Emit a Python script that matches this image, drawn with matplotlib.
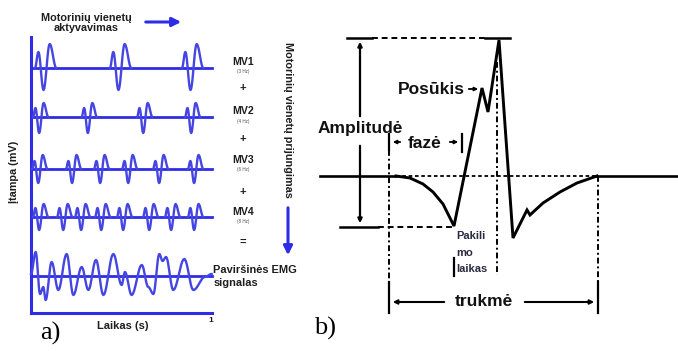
import matplotlib
matplotlib.use("Agg")
import matplotlib.pyplot as plt
import numpy as np

# ── Panel a: motor unit firing (spike start times in s) ──────────────────
mv_names = ["MV1", "MV2", "MV3", "MV4"]
mv_rates = ["(3 Hz)", "(4 Hz)", "(6 Hz)", "(8 Hz)"]
mv_spikes = [
    [0.022, 0.436, 0.834],
    [0.011, 0.280, 0.586, 0.851],
    [0.006, 0.193, 0.348, 0.503, 0.674, 0.867],
    [0.011, 0.144, 0.243, 0.354, 0.475, 0.619, 0.740, 0.867],
]
# spike amplitudes: first small peak, trough, main peak
mv_small = [16, 9, 8, 9]
mv_trough = [22, 16, 14, 13]
mv_big = [24, 14, 14, 13]
mv_width = [0.118, 0.085, 0.085, 0.085]
spike_phase = [0.0, 0.16, 0.40, 0.69, 1.0]

# surface EMG extrema (time s, amplitude)
emg_t = [0.0, 0.026, 0.050, 0.068, 0.081, 0.114, 0.151, 0.197, 0.234, 0.280,
         0.317, 0.359, 0.400, 0.455, 0.501, 0.519, 0.556, 0.612, 0.648, 0.676,
         0.709, 0.727, 0.746, 0.786, 0.847, 0.897, 0.961, 0.998]
emg_v = [2, 24, -18, -11, -24, 14, -14, 22, -19, 9,
         -14, 16, -19, 22, -9, 4, -19, 11, -11, -18,
         22, 15, 19, -14, 17, -14, -1, 2]

# ── Panel b: motor unit action potential (x, amplitude) ──────────────────
muap_x = [396, 410, 423, 433, 443, 454, 482, 488, 499, 513, 527, 530, 543, 560, 577, 597]
muap_v = [0, -2, -8, -16, -28, -50, 88, 64, 136, -62, -34, -39, -27, -16, -7, 0]
rise_lines = ["Pakili", "mo", "laikas"]

BLUE = "#2d2de6"
TRACE = "#4545e2"
SANS = "Liberation Sans"
SERIF = "Liberation Serif"

# layout of panel a (pixels)
A_X0, A_W = 31, 181
A_BASE = [68, 117, 169, 217]
EMG_BASE = 276
AX_BOTTOM = 313

# layout of panel b (pixels)
B_BASE = 176


def smooth(xs, ys, n=12):
    """Cosine-eased path through a list of extrema."""
    px, py = [xs[0]], [ys[0]]
    for i in range(len(xs) - 1):
        s = np.linspace(0, 1, n)[1:]
        px.extend(xs[i] + (xs[i + 1] - xs[i]) * s)
        py.extend(ys[i] + (ys[i + 1] - ys[i]) * (1 - np.cos(np.pi * s)) / 2)
    return np.array(px), np.array(py)


def tx(t):
    return A_X0 + np.asarray(t) * A_W


fig = plt.figure(figsize=(6.78, 3.51), dpi=100)
ax = fig.add_axes([0, 0, 1, 1])
ax.set_xlim(0, 678)
ax.set_ylim(351, 0)
ax.axis("off")

# ── a) ───────────────────────────────────────────────────────────────────
ax.plot([A_X0, A_X0], [37, AX_BOTTOM], color=BLUE, lw=2.2)
ax.plot([A_X0, tx(1)], [AX_BOTTOM, AX_BOTTOM], color=BLUE, lw=2.2)

for k, spikes in enumerate(mv_spikes):
    base = A_BASE[k]
    ax.plot([A_X0, tx(1)], [base, base], color=BLUE, lw=2)
    amps = [0, mv_small[k], -mv_trough[k], mv_big[k], 0]
    for t0 in spikes:
        ts = [t0 + p * mv_width[k] for p in spike_phase]
        sx, sy = smooth(ts, amps)
        ax.plot(tx(sx), base - sy, color=TRACE, lw=1.7, solid_joinstyle="round")

ax.plot([A_X0, tx(1)], [EMG_BASE, EMG_BASE], color=BLUE, lw=2)
ex, ey = smooth(emg_t, emg_v)
ax.plot(tx(ex), EMG_BASE - ey, color=TRACE, lw=1.7)

bold = dict(fontfamily=SANS, fontweight="bold", color="#1e1e1e")
ax.text(86, 23, "Motorinių vienetų\naktyvavimas", ha="center", va="center",
        fontsize=7.8, linespacing=1.1, **bold)
ax.annotate("", xy=(184, 22), xytext=(143, 22),
            arrowprops=dict(arrowstyle="-|>", color=BLUE, lw=2.2, mutation_scale=13))

label_y = [62, 111, 160, 212]
for k in range(4):
    ax.text(243, label_y[k], mv_names[k], ha="center", va="center", fontsize=7.6, **bold)
    ax.text(243, label_y[k] + 10, mv_rates[k], ha="center", va="center",
            fontsize=3.3, fontfamily=SANS, color="#555555")
for y in [88, 139, 192]:
    ax.text(243, y, "+", ha="center", va="center", fontsize=8, **bold)
ax.text(243, 242, "=", ha="center", va="center", fontsize=8, **bold)
ax.text(213, 270, "Paviršinės EMG", ha="left", va="center", fontsize=7.9, **bold)
ax.text(214, 283, "signalas", ha="left", va="center", fontsize=7.9, **bold)

ax.text(288, 120, "Motorinių vienetų prijungimas", ha="center", va="center",
        rotation=-90, fontsize=7.8, **bold)
ax.annotate("", xy=(288, 258), xytext=(288, 205),
            arrowprops=dict(arrowstyle="-|>", color=BLUE, lw=2.2, mutation_scale=13))

ax.text(14, 172, "Įtampa (mV)", ha="center", va="center", rotation=90, fontsize=7.8, **bold)
ax.text(123, 326, "Laikas (s)", ha="center", va="center", fontsize=8, **bold)
ax.text(211, 321, "1", ha="center", va="center", fontsize=6, **bold)
ax.text(50, 333, "a)", ha="center", va="center", fontsize=19, fontfamily=SERIF)

# ── b) ───────────────────────────────────────────────────────────────────
K = "black"
dash = (0, (3, 2))
dashdot = (0, (3, 1.5, 1, 1.5))

# baseline
ax.plot([320, muap_x[0]], [B_BASE, B_BASE], color=K, lw=1.9)
ax.plot([muap_x[0], muap_x[-1]], [B_BASE, B_BASE], color=K, lw=1.3, ls=(0, (2, 1.5)))
ax.plot([muap_x[-1], 678], [B_BASE, B_BASE], color=K, lw=1.9)

# potential
ax.plot(muap_x, B_BASE - np.array(muap_v), color=K, lw=2.1, solid_joinstyle="miter")

peak_y = B_BASE - max(muap_v)
low_y = B_BASE - min(muap_v[:7]) + 1
# top and bottom reference lines
ax.plot([347, 372], [peak_y - 2, peak_y - 2], color=K, lw=1.8)
ax.plot([372, 485], [peak_y - 2, peak_y - 2], color=K, lw=1.4, ls=dash)
ax.plot([485, 510], [peak_y - 2, peak_y - 2], color=K, lw=1.8)
ax.plot([340, 378], [low_y, low_y], color=K, lw=1.8)
ax.plot([378, 454], [low_y, low_y], color=K, lw=1.4, ls=dash)

# amplitude arrow
ax.annotate("", xy=(360, peak_y - 1), xytext=(360, 119),
            arrowprops=dict(arrowstyle="-|>", color=K, lw=1.6, mutation_scale=6))
ax.annotate("", xy=(360, low_y - 1), xytext=(360, 143),
            arrowprops=dict(arrowstyle="-|>", color=K, lw=1.6, mutation_scale=6))
ax.text(360, 129, "Amplitudė", ha="center", va="center", fontsize=12.5,
        fontfamily=SANS, fontweight="bold", color="#111111")

# vertical guides
ax.plot([389, 389], [150, 312], color=K, lw=1.4, ls=dashdot)
ax.plot([497, 497], [62, 275], color=K, lw=1.4, ls=dashdot)
ax.plot([598, 598], [B_BASE, 312], color=K, lw=1.4, ls=dashdot)

# fazė bracket
ax.plot([389, 389], [134, 150], color=K, lw=1.6)
ax.plot([462, 462], [134, 152], color=K, lw=1.6)
ax.annotate("", xy=(390, 142), xytext=(403, 142),
            arrowprops=dict(arrowstyle="-|>", color=K, lw=1.3, mutation_scale=5))
ax.annotate("", xy=(461, 142), xytext=(447, 142),
            arrowprops=dict(arrowstyle="-|>", color=K, lw=1.3, mutation_scale=5))
ax.text(425, 143, "fazė", ha="center", va="center", fontsize=12.5,
        fontfamily=SANS, fontweight="bold", color="#111111")

# posūkis
ax.text(431, 89, "Posūkis", ha="center", va="center", fontsize=12.5,
        fontfamily=SANS, fontweight="bold", color="#111111")
ax.annotate("", xy=(481, 89), xytext=(466, 89),
            arrowprops=dict(arrowstyle="-|>", color=K, lw=1.3, mutation_scale=5))

# rise time
ax.plot([454, 454], [258, 276], color=K, lw=1.6)
for i, word in enumerate(rise_lines):
    ax.text(456, 236 + 16.5 * i, word, ha="left", va="center", fontsize=8,
            fontfamily=SANS, fontweight="bold", color="#2a2a40")

# trukmė
ax.plot([389, 389], [282, 313], color=K, lw=1.6)
ax.plot([598, 598], [282, 313], color=K, lw=1.6)
ax.annotate("", xy=(390, 302), xytext=(447, 302),
            arrowprops=dict(arrowstyle="-|>", color=K, lw=1.5, mutation_scale=6))
ax.annotate("", xy=(597, 302), xytext=(522, 302),
            arrowprops=dict(arrowstyle="-|>", color=K, lw=1.5, mutation_scale=6))
ax.text(484, 302, "trukmė", ha="center", va="center", fontsize=12.5,
        fontfamily=SANS, fontweight="bold", color="#111111")

ax.text(325, 328, "b)", ha="center", va="center", fontsize=19, fontfamily=SERIF)

fig.savefig("out.png", dpi=100)
